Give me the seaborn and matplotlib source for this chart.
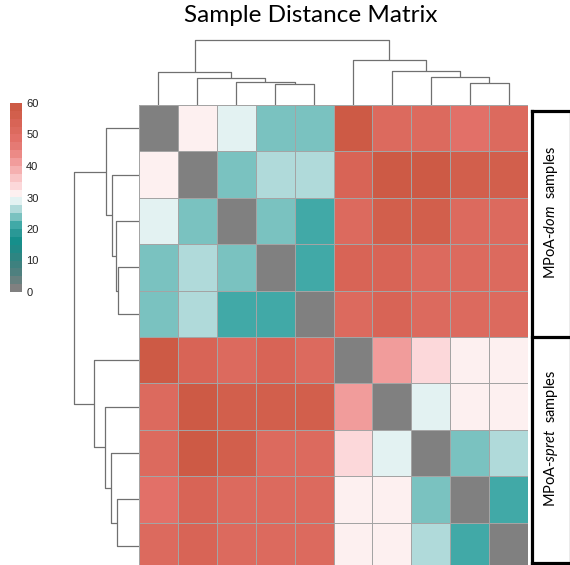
import numpy as np
import pandas as pd
import matplotlib
matplotlib.use("Agg")
import matplotlib.pyplot as plt
import seaborn as sns
from matplotlib.colors import ListedColormap

# ---------------- data ----------------
samples = ["dom1", "dom2", "dom3", "dom4", "dom5",
           "spret1", "spret2", "spret3", "spret4", "spret5"]
row_dom1 = [0, 31, 29, 24, 24, 58, 51, 51, 49, 51]
row_dom2 = [31, 0, 24, 26, 26, 54, 58, 58, 55, 55]
row_dom3 = [29, 24, 0, 24, 21, 51, 55, 55, 52, 52]
row_dom4 = [24, 26, 24, 0, 21, 54, 54, 52, 52, 52]
row_dom5 = [24, 26, 21, 21, 0, 51, 54, 51, 51, 51]
row_spret1 = [58, 54, 51, 54, 51, 0, 41, 34, 31, 31]
row_spret2 = [51, 58, 55, 55, 55, 41, 0, 29, 31, 31]
row_spret3 = [51, 58, 55, 51, 51, 34, 29, 0, 24, 26]
row_spret4 = [49, 54, 51, 51, 51, 31, 31, 24, 0, 21]
row_spret5 = [51, 54, 51, 51, 51, 31, 31, 26, 21, 0]

# hierarchical clustering (scipy-style linkage: child a, child b, height)
merge_a = [3, 2, 1, 0, 8, 7, 6, 5, 13]
merge_b = [4, 10, 11, 12, 9, 14, 15, 16, 17]
merge_height = [21, 23, 27, 33, 22, 28, 34, 45, 65]

group_names = ["dom", "spret"]
group_sizes = [5, 5]

cbar_ticks = [0, 10, 20, 30, 40, 50, 60]

band_colors = ["#808080", "#66807f", "#4e807f", "#3e817f", "#2e8582", "#208a87",
               "#168f8b", "#2a9896", "#41a9a7", "#7ac2c0", "#b0dada", "#e3f2f2",
               "#fdf0f0", "#fcd8da", "#f9c5c6", "#f5b0b0", "#f19c9b", "#ec8a86",
               "#e57a74", "#e27068", "#dc6a5e", "#d86456", "#d25f4c", "#cd5a45"]

dist = pd.DataFrame([row_dom1, row_dom2, row_dom3, row_dom4, row_dom5,
                     row_spret1, row_spret2, row_spret3, row_spret4, row_spret5],
                    index=samples, columns=samples)

# ---------------- figure ----------------
W, H = 570, 565
fig = plt.figure(figsize=(W / 100, H / 100), dpi=100)
plt.rcParams["mathtext.fontset"] = "custom"
plt.rcParams["mathtext.rm"] = "Lato"
plt.rcParams["mathtext.it"] = "Lato:italic"


def fax(x0, y0, x1, y1):
    """axes from pixel box (top-left origin)"""
    return fig.add_axes([x0 / W, (H - y1) / H, (x1 - x0) / W, (y1 - y0) / H])


hm_x0, hm_x1, hm_y0, hm_y1 = 139, 528, 105, 569
ax_hm = fax(hm_x0, hm_y0, hm_x1, hm_y1)
ax_cb = fax(10, 103, 22, 292)
ax_top = fax(hm_x0, 36, hm_x1, hm_y0)
ax_left = fax(70, hm_y0, hm_x0, hm_y1)
ax_br = fax(532, 111, 570, 563)

cmap = ListedColormap(band_colors)
sns.heatmap(dist, ax=ax_hm, cmap=cmap, vmin=0, vmax=60, linewidths=0.7,
            linecolor="#a4a4a4", xticklabels=False, yticklabels=False,
            cbar_ax=ax_cb, cbar_kws={"ticks": cbar_ticks})
ax_cb.tick_params(length=0, labelsize=8, pad=3)
for t in ax_cb.get_yticklabels():
    t.set_fontfamily("Liberation Sans")
    t.set_color("#222222")
cb = ax_hm.collections[0].colorbar
if cb is not None:
    cb.outline.set_visible(False)
for sp in ax_cb.spines.values():
    sp.set_visible(False)


def dendro_segments(n, a, b, h):
    pos = {i: i + 0.5 for i in range(n)}
    hgt = {i: 0.0 for i in range(n)}
    segs = []
    for k, (i, j, hh) in enumerate(zip(a, b, h)):
        xi, xj = pos[i], pos[j]
        segs.append(([xi, xi, xj, xj], [hgt[i], hh, hh, hgt[j]]))
        pos[n + k] = (xi + xj) / 2
        hgt[n + k] = hh
    return segs


segs = dendro_segments(len(samples), merge_a, merge_b, merge_height)
for xs, ys in segs:
    ax_top.plot(xs, ys, color="#707070", lw=0.9, solid_capstyle="butt")
    ax_left.plot(ys, xs, color="#707070", lw=0.9, solid_capstyle="butt")
ax_top.set_xlim(0, len(samples))
ax_top.set_ylim(0, 69)
ax_left.set_ylim(len(samples), 0)
ax_left.set_xlim(69, 0)
for a in (ax_top, ax_left):
    a.axis("off")

# group brackets on the right
ax_br.set_xlim(0, 1)
ax_br.set_ylim(sum(group_sizes), 0)
ax_br.axis("off")
bounds = np.concatenate([[0], np.cumsum(group_sizes)])
ax_br.plot([0, 0], [bounds[0], bounds[-1]], color="black", lw=2.3,
           solid_capstyle="projecting", clip_on=False)
ax_br.plot([1, 1], [bounds[0], bounds[-1]], color="#9a9a9a", lw=1.0, clip_on=False)
for b in bounds:
    ax_br.plot([0, 1], [b, b], color="black", lw=2.3, clip_on=False,
               solid_capstyle="projecting")
for name, lo, hi in zip(group_names, bounds[:-1], bounds[1:]):
    ax_br.text(0.5, (lo + hi) / 2 - 0.25, r"MPoA-$\mathit{" + name + r"}$  samples",
               rotation=90, ha="center", va="center", fontsize=10.5,
               family="Lato")

fig.text(311 / W, 1 - 15.5 / H, "Sample Distance Matrix", ha="center",
         va="center", fontsize=17.5, family="Lato")

fig.savefig("out.png", dpi=100, facecolor="white")
